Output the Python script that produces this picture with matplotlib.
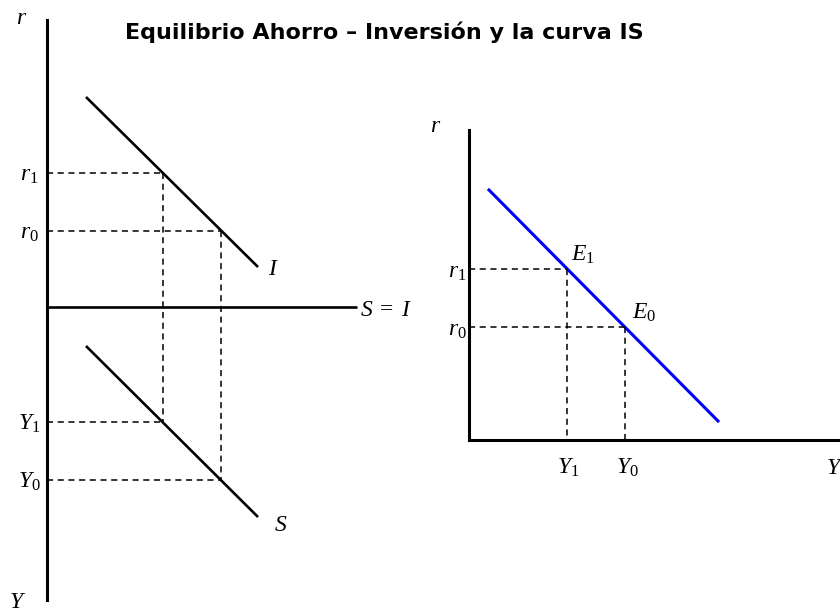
import matplotlib
matplotlib.use("Agg")
import matplotlib.pyplot as plt

plt.rcParams['mathtext.fontset'] = 'custom'
plt.rcParams['mathtext.rm'] = 'Liberation Serif'
plt.rcParams['mathtext.it'] = 'Liberation Serif:italic'

# diagram geometry (pixel space of the 840x612 sheet, y down)
# left panel: S = I quadrant chart
left_axis_x = 47
left_axis_y = [20, 600]
si_line_y = 307
si_line_x = [47, 357]
inv_x = [86, 258]
inv_y = [97, 267]
sav_x = [86, 258]
sav_y = [346, 517]
r_levels = [173, 231]      # r1, r0
y_levels = [422, 480]      # Y1, Y0
drop_x = [163, 221]        # where r1/r0 hit I and Y1/Y0 hit S

# right panel: IS curve
right_origin = (469, 440)
right_top = 130
right_end = 838
is_x = [489, 718]
is_y = [190, 421]
eq_x = [567, 625]          # Y1, Y0
eq_r = [269, 327]          # r1, r0

fig = plt.figure(figsize=(8.4, 6.12), dpi=100)
ax = fig.add_axes([0, 0, 1, 1])
ax.set_xlim(0, 840)
ax.set_ylim(612, 0)
ax.axis('off')

solid = dict(color='black', lw=1.9, solid_capstyle='butt')
dash = dict(color='black', lw=1.1, ls=(0, (4, 3)))

# left panel
ax.plot([left_axis_x, left_axis_x], left_axis_y, color='black', lw=2.2)
ax.plot(si_line_x, [si_line_y, si_line_y], **solid)
ax.plot(inv_x, inv_y, **solid)
ax.plot(sav_x, sav_y, **solid)
for r, y, x in zip(r_levels, y_levels, drop_x):
    ax.plot([left_axis_x, x], [r, r], **dash)
    ax.plot([left_axis_x, x], [y, y], **dash)
    ax.plot([x, x], [r, y], **dash)

# right panel
ox, oy = right_origin
ax.plot([ox, ox], [right_top, oy], color='black', lw=2.2, solid_capstyle='projecting')
ax.plot([ox, right_end], [oy, oy], color='black', lw=2.2, solid_capstyle='projecting')
ax.plot(is_x, is_y, color='#0000ff', lw=2.2)
for x, r in zip(eq_x, eq_r):
    ax.plot([ox, x], [r, r], **dash)
    ax.plot([x, x], [r, oy], **dash)

fs = 17
lab = dict(fontsize=fs, ha='center', va='center', color='black')
ax.text(22, 17, '$r$', **lab)
ax.text(29, 174, '$r_1$', **lab)
ax.text(29, 232, '$r_0$', **lab)
ax.text(273, 268, '$I$', **lab)
ax.text(360, 309, '$S\\;=\\;I$', fontsize=fs, ha='left', va='center')
ax.text(29, 423, '$Y_1$', **lab)
ax.text(29, 481, '$Y_0$', **lab)
ax.text(281, 524, '$S$', **lab)
ax.text(18, 601, '$Y$', **lab)

ax.text(436, 125, '$r$', **lab)
ax.text(457, 271, '$r_1$', **lab)
ax.text(457, 329, '$r_0$', **lab)
ax.text(583, 254, '$E_1$', **lab)
ax.text(644, 312, '$E_0$', **lab)
ax.text(568, 467, '$Y_1$', **lab)
ax.text(627, 467, '$Y_0$', **lab)
ax.text(826, 467, '$Y$', fontsize=fs, ha='left', va='center')

ax.text(384, 32, 'Equilibrio Ahorro – Inversión y la curva IS',
        fontsize=16, fontweight='bold', ha='center', va='center',
        family='DejaVu Sans')

fig.savefig('out.png', dpi=100)
